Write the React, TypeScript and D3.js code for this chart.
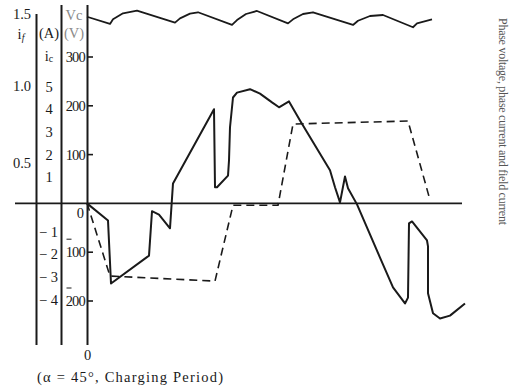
import React from "react";
import * as d3 from "d3";

// time axis (arbitrary units along the trace)
const timeV = [0,21,24,62,65,72,83,86,127,128,130,141,142,143,146,150,163,173,185,192,202,213,243,248,253,258,261,270,293,306,318,321,322,325,340,341,341,346,353,363,378];
const phaseVoltage = [0,-35,-164,-107,-16,-23,-51,41,193,33,33,57,88,156,217,227,234,225,207,197,209,170,68,33,2,55,31,-2,-111,-172,-205,-193,-41,-37,-76,-88,-184,-225,-236,-230,-205];

const timeI = [0,23,128,146,191,206,321,343];
const phaseCurrent = [0,-3.22,-3.44,-0.1,-0.1,3.48,3.61,0.13];

const timeF = [0,23,26,36,50,88,93,103,111,145,150,159,170,201,206,216,226,266,271,283,296,326,330,345];
const fieldCurrent = [1.481,1.431,1.463,1.505,1.523,1.44,1.47,1.503,1.512,1.424,1.458,1.5,1.521,1.435,1.463,1.5,1.512,1.424,1.453,1.486,1.493,1.408,1.435,1.463];

const ifTicks = ["1.5", "1.0", "0.5"];
const ifTickValues = [1.5, 1.0, 0.5];
const icTicks = [5, 4, 3, 2, 1, -1, -2, -3, -4];
const vcTicks = [300, 200, 100, 0, -100, -200];

const caption = "(α = 45°, Charging Period)";
const sideTitle = "Phase  voltage, phase  current  and  field  current";

export default function App() {
  const W = 524, H = 389;
  const x = d3.scaleLinear().domain([0, 378]).range([87, 465]);
  const yV = d3.scaleLinear().domain([-200, 300]).range([301, 57]);
  const yI = d3.scaleLinear().domain([0, 5]).range([203, 89.5]);
  const yF = d3.scaleLinear().domain([0.5, 1.0, 1.5]).range([163, 86, 14]);

  const lineV = d3.line<number>().x((_, i) => x(timeV[i])).y((d) => yV(d));
  const lineI = d3.line<number>().x((_, i) => x(timeI[i])).y((d) => yI(d));
  const lineF = d3.line<number>().x((_, i) => x(timeF[i])).y((d) => yF(d));

  const font = "'Liberation Serif', 'DejaVu Serif', serif";
  const ink = "#1a1a1a";
  const fs = 14.5;

  return (
    <svg width={W} height={H} style={{ position: "absolute", left: 0, top: 0, background: "#fff" }} fontFamily={font}>
      <rect width={W} height={H} fill="#fff" />
      {/* vertical axis lines */}
      <line x1={36.5} x2={36.5} y1={14} y2={345} stroke={ink} strokeWidth={2} />
      <line x1={61.5} x2={61.5} y1={5} y2={345} stroke={ink} strokeWidth={2} />
      <line x1={87.5} x2={87.5} y1={5} y2={345} stroke={ink} strokeWidth={2} />
      {/* zero line */}
      <line x1={15} x2={x(375)} y1={yV(0)} y2={yV(0)} stroke={ink} strokeWidth={1.6} />

      {/* Vc ticks */}
      {vcTicks.filter((v) => v !== 0).map((v) => (
        <line key={"vt" + v} x1={87.5} x2={93} y1={yV(v)} y2={yV(v)} stroke={ink} strokeWidth={1.6} />
      ))}
      {vcTicks.map((v) => (
        <g key={"vl" + v}>
          <text x={v === 0 ? 80 : 85} y={v === 0 ? yV(v) + 15 : yV(v) + 5} textAnchor={v === 0 ? "middle" : "end"} fontSize={fs} letterSpacing={-0.8} fill={ink}>
            {Math.abs(v)}
          </text>
          {v < 0 && <line x1={66.5} x2={71.5} y1={yV(v) - 13} y2={yV(v) - 13} stroke={ink} strokeWidth={1} />}
        </g>
      ))}

      {/* ic tick labels */}
      {icTicks.map((v) => (
        <text key={"ic" + v} x={v > 0 ? 49 : 58} y={yI(v) + (v > 0 ? -3 : 6) + 5} textAnchor={v > 0 ? "middle" : "end"} fontSize={fs} fill={ink}>
          {v > 0 ? String(v) : "−  " + Math.abs(v)}
        </text>
      ))}

      {/* if tick labels */}
      {ifTicks.map((t, i) => (
        <text key={"if" + t} x={22} y={yF(ifTickValues[i]) + 5} textAnchor="middle" fontSize={fs} fill={ink}>
          {t}
        </text>
      ))}

      {/* unit labels */}
      <text x={21} y={39} textAnchor="middle" fontSize={fs} fill={ink}>
        i<tspan fontSize={10} dy={2} fontStyle="italic">f</tspan>
      </text>
      <text x={49} y={38} textAnchor="middle" fontSize={fs} fill={ink}>(A)</text>
      <text x={49} y={61} textAnchor="middle" fontSize={fs} fill={ink}>
        i<tspan fontSize={10} dy={1}>c</tspan>
      </text>
      <text x={74} y={20} textAnchor="middle" fontSize={fs} fill="#8a8a8a">Vc</text>
      <text x={74} y={38} textAnchor="middle" fontSize={fs} fill="#8a8a8a">(V)</text>

      {/* bottom 0 */}
      <text x={87.5} y={360} textAnchor="middle" fontSize={fs} fill={ink}>0</text>

      {/* curves */}
      <path d={lineF(fieldCurrent) || ""} fill="none" stroke={ink} strokeWidth={1.8} strokeLinejoin="round" />
      <path d={lineV(phaseVoltage) || ""} fill="none" stroke={ink} strokeWidth={2} strokeLinejoin="round" />
      <path d={lineI(phaseCurrent) || ""} fill="none" stroke={ink} strokeWidth={1.6} strokeDasharray="8,5" />

      {/* caption */}
      <text x={37} y={382} fontSize={fs} fill={ink} textLength={186} lengthAdjust="spacing">{caption}</text>

      {/* side title */}
      <text transform="translate(499,18) rotate(90)" fontSize={12} fill="#555" textLength={207} lengthAdjust="spacing">
        {sideTitle}
      </text>
    </svg>
  );
}
